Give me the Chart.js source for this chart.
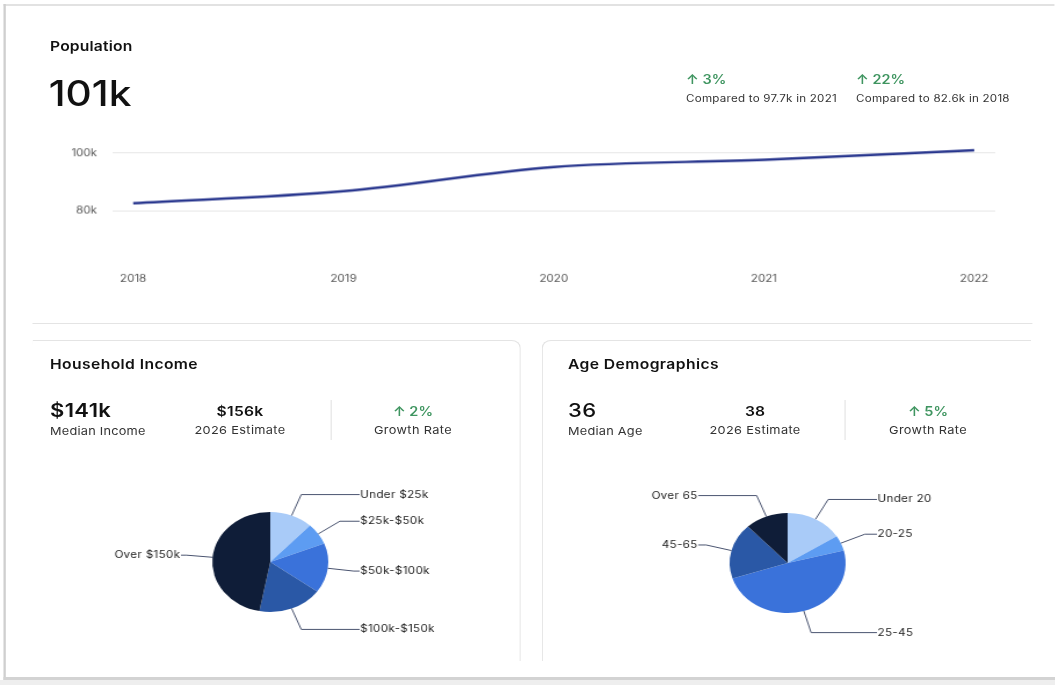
<!DOCTYPE html>
<html>
<head>
<meta charset="utf-8">
<script src="https://cdn.jsdelivr.net/npm/chart.js@4.4.1/dist/chart.umd.min.js"></script>
<style>
  html, body { margin:0; padding:0; background:#fff; overflow:hidden; }
  body { width:1055px; height:685px; position:relative; font-family:Inter, "Noto Sans", sans-serif; color:#111; }
  #page { position:absolute; left:0; top:0; width:909.5px; height:685px; transform:scale(1.16,1); transform-origin:0 0; }
  .t { position:absolute; line-height:1; white-space:nowrap; }
  .c { transform:translateX(-50%); }
  .b { font-weight:600; }
  .g { color:#3f9560; font-weight:600; }
  .s { color:#333; }
  .ln { position:absolute; background:#e4e4e4; }
  canvas { position:absolute; }
</style>
</head>
<body>
<div id="page">
  <!-- outer frame -->
  <div class="ln" style="left:2.5px;top:4px;width:906px;height:2px;background:#e2e2e2"></div>
  <div class="ln" style="left:2.8px;top:4px;width:2.2px;height:676px;background:#cfcfcf"></div>
  <div class="ln" style="left:2.8px;top:677px;width:907px;height:3px;background:#d3d3d3"></div>
  <div class="ln" style="left:0;top:680px;width:909.5px;height:5px;background:#eeeeee"></div>

  <div class="t b" style="left:43.1px;top:40px;font-size:13.5px;letter-spacing:0.15px">Population</div>
  <div class="t" style="left:42px;top:75.5px;font-size:35px;font-weight:500">101k</div>

  <div class="t g" style="left:591.4px;top:73.5px;font-size:12.5px">↑ 3%</div>
  <div class="t s" style="left:591.4px;top:93px;font-size:10px;letter-spacing:0.2px">Compared to 97.7k in 2021</div>
  <div class="t g" style="left:738px;top:73.5px;font-size:12.5px">↑ 22%</div>
  <div class="t s" style="left:738px;top:93px;font-size:10px;letter-spacing:0.2px">Compared to 82.6k in 2018</div>

  <canvas id="lineChart" style="left:20px;top:111.4px;width:857.8px;height:188.9px"></canvas>

  <div class="ln" style="left:28.4px;top:322.5px;width:862px;height:1.2px"></div>

  <!-- cards -->
  <div style="position:absolute;left:28.4px;top:340px;width:420px;height:320px;border-top:1px solid #e4e4e4;border-right:1px solid #e4e4e4;border-top-right-radius:8px"></div>
  <div style="position:absolute;left:467px;top:340px;width:421px;height:320px;border-top:1px solid #e4e4e4;border-left:1px solid #e4e4e4;border-top-left-radius:8px"></div>

  <div class="t b" style="left:43.1px;top:358px;font-size:13.5px;letter-spacing:0.35px">Household Income</div>
  <div class="t b" style="left:43.1px;top:400.5px;font-size:19px;letter-spacing:0.3px">$141k</div>
  <div class="t s" style="left:43.1px;top:425.5px;font-size:11px;letter-spacing:0.2px">Median Income</div>
  <div class="t b c" style="left:206.9px;top:405px;font-size:13.5px;letter-spacing:0.2px">$156k</div>
  <div class="t s c" style="left:206.9px;top:424.5px;font-size:11px;letter-spacing:0.3px">2026 Estimate</div>
  <div class="ln" style="left:284.5px;top:400px;width:1px;height:40px"></div>
  <div class="t g c" style="left:356px;top:405.5px;font-size:12.5px">↑ 2%</div>
  <div class="t s c" style="left:356px;top:424.5px;font-size:11px;letter-spacing:0.3px">Growth Rate</div>

  <div class="t b" style="left:489.7px;top:358px;font-size:13.5px;letter-spacing:0.35px">Age Demographics</div>
  <div class="t" style="left:489.7px;top:400.5px;font-size:19px;font-weight:500;letter-spacing:0.3px">36</div>
  <div class="t s" style="left:489.7px;top:425.5px;font-size:11px;letter-spacing:0.2px">Median Age</div>
  <div class="t b c" style="left:650.9px;top:405px;font-size:13.5px">38</div>
  <div class="t s c" style="left:650.9px;top:424.5px;font-size:11px;letter-spacing:0.3px">2026 Estimate</div>
  <div class="ln" style="left:728.4px;top:400px;width:1px;height:40px"></div>
  <div class="t g c" style="left:800px;top:405.5px;font-size:12.5px">↑ 5%</div>
  <div class="t s c" style="left:800px;top:424.5px;font-size:11px;letter-spacing:0.3px">Growth Rate</div>

  <canvas id="incomePie" style="left:52.8px;top:462px;width:360px;height:200px"></canvas>
  <canvas id="agePie" style="left:499.3px;top:463px;width:360px;height:200px"></canvas>
</div>

<script>
// ---------- DATA ----------
const years = [2018, 2019, 2020, 2021, 2022];
const population = [82600, 86800, 95200, 97700, 101000];
const popTicks = [80000, 100000];

const incomeLabels = ["Under $25k", "$25k-$50k", "$50k-$100k", "$100k-$150k", "Over $150k"];
const incomeShares = [12, 7, 16, 18, 47];

const ageLabels = ["Under 20", "20-25", "25-45", "45-65", "Over 65"];
const ageShares = [16, 5, 49, 18, 12];

const sliceColors = ["#a9cbf8", "#5d9cf2", "#3a72da", "#2a58a6", "#0f1d38"];
const ageColors = ["#a9cbf8", "#5d9cf2", "#3a72da", "#2a58a6", "#0f1d38"];

Chart.defaults.font.family = "Inter, 'Noto Sans', sans-serif";
Chart.defaults.animation = false;

// ---------- LINE CHART ----------
new Chart(document.getElementById('lineChart'), {
  type: 'line',
  data: {
    datasets: [{
      data: years.map((y, i) => ({ x: y, y: population[i] })),
      borderColor: '#27358d',
      borderWidth: 2.4,
      pointRadius: 0,
      cubicInterpolationMode: 'monotone',
      fill: false
    }]
  },
  options: {
    responsive: false,
    maintainAspectRatio: false,
    layout: { padding: { top: 9.8, right: 20, left: 0, bottom: 0 } },
    plugins: { legend: { display: false }, tooltip: { enabled: false } },
    scales: {
      x: {
        type: 'linear', min: 2017.9, max: 2022.1,
        afterBuildTicks: s => { s.ticks = years.map(v => ({ value: v })); },
        afterFit: s => { s.height = 40; },
        grid: { display: false, drawTicks: false },
        border: { display: false },
        ticks: { color: '#555', font: { size: 10 }, padding: 13, callback: v => String(v), maxRotation: 0 }
      },
      y: {
        min: 63000, max: 108000,
        afterBuildTicks: s => { s.ticks = popTicks.map(v => ({ value: v })); },
        afterFit: s => { s.width = 76.6; },
        grid: { color: '#e6e6e6', drawTicks: false, lineWidth: 1 },
        border: { display: false },
        ticks: { color: '#555', font: { size: 10 }, padding: 13, callback: v => (v / 1000) + 'k' }
      }
    }
  }
});

// ---------- PIE LABEL PLUGIN ----------
const leaderLabels = {
  id: 'leaderLabels',
  afterDatasetsDraw(chart) {
    const ctx = chart.ctx;
    const meta = chart.getDatasetMeta(0);
    const labels = chart.data.labels;
    ctx.save();
    ctx.strokeStyle = '#4a5470';
    ctx.lineWidth = 1;
    ctx.fillStyle = '#222';
    ctx.font = "10px Inter, 'Noto Sans', sans-serif";
    if ('letterSpacing' in ctx) ctx.letterSpacing = '0.3px';
    ctx.textBaseline = 'middle';
    meta.data.forEach((arc, i) => {
      const { x, y, startAngle, endAngle, outerRadius } = arc.getProps(['x', 'y', 'startAngle', 'endAngle', 'outerRadius'], true);
      const mid = (startAngle + endAngle) / 2;
      const ex = x + Math.cos(mid) * outerRadius, ey = y + Math.sin(mid) * outerRadius;
      const bx = x + Math.cos(mid) * outerRadius * 1.45, by = y + Math.sin(mid) * outerRadius * 1.45;
      const right = Math.cos(mid) >= 0;
      const lx = right ? x + 77 : x - 77;
      ctx.beginPath();
      ctx.moveTo(ex, ey);
      ctx.lineTo(bx, by);
      ctx.lineTo(lx, by);
      ctx.stroke();
      ctx.textAlign = right ? 'left' : 'right';
      ctx.fillText(labels[i], right ? lx + 0.5 : lx - 0.5, by);
    });
    ctx.restore();
  }
};

function makePie(id, labels, values, colors) {
  new Chart(document.getElementById(id), {
    type: 'pie',
    data: { labels: labels, datasets: [{ data: values, backgroundColor: colors, borderWidth: 0, hoverOffset: 0 }] },
    options: {
      responsive: false,
      radius: 50,
      layout: { padding: { top: 50, bottom: 50 } },
      plugins: { legend: { display: false }, tooltip: { enabled: false } }
    },
    plugins: [leaderLabels]
  });
}
makePie('incomePie', incomeLabels, incomeShares, sliceColors);
makePie('agePie', ageLabels, ageShares, ageColors);
</script>
</body>
</html>
